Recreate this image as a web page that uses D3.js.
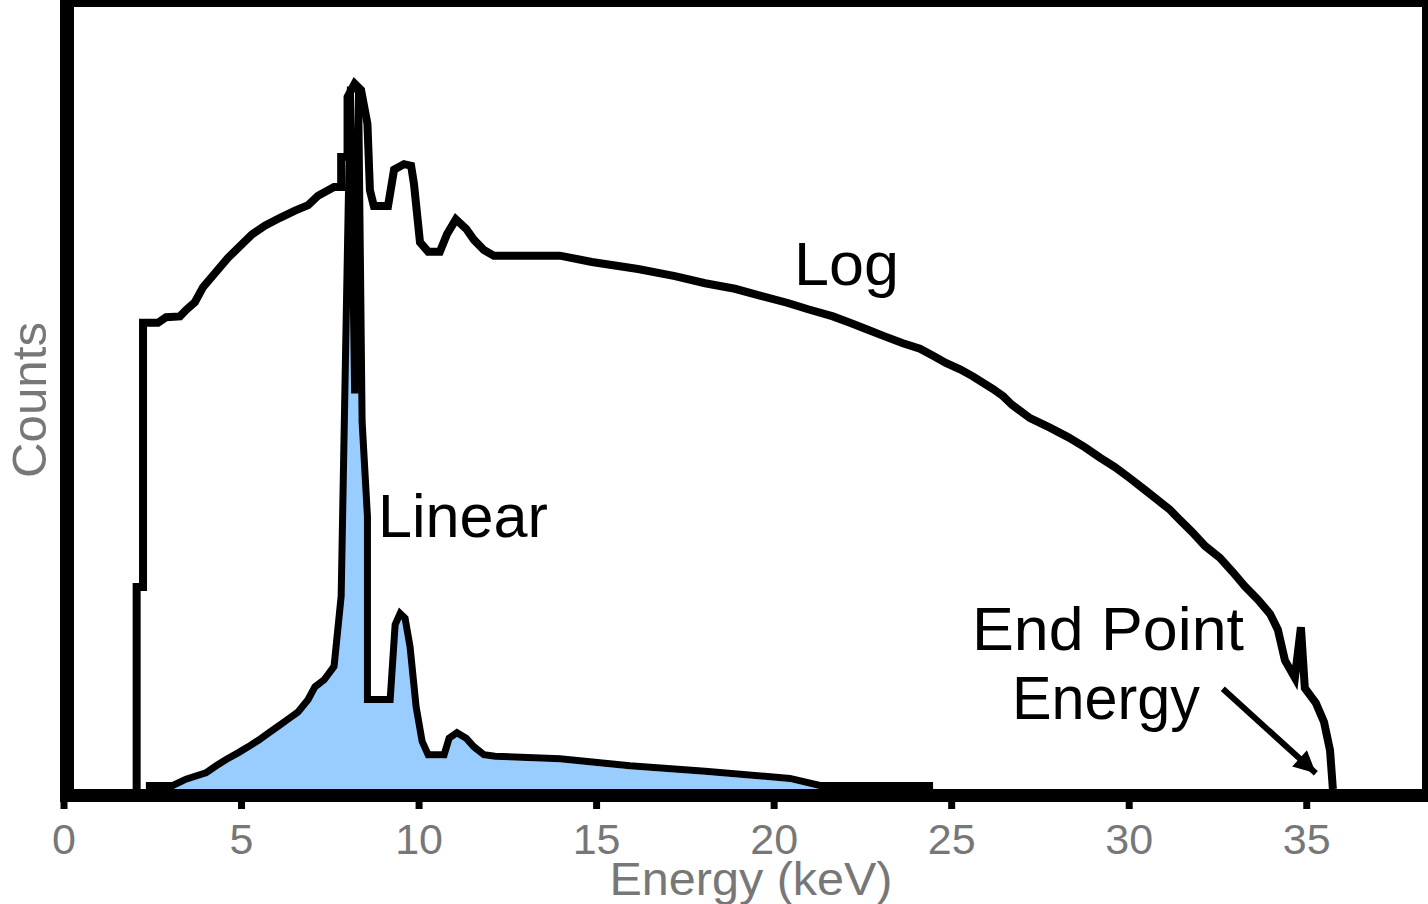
<!DOCTYPE html>
<html>
<head>
<meta charset="utf-8">
<script src="https://d3js.org/d3.v7.min.js"></script>
<style>
  html, body { margin: 0; padding: 0; background: #fff; }
  svg { display: block; }
</style>
</head>
<body>
<div id="chart"></div>
<script>
// Log-scale spectrum (relative height, 0-100)
const logEnergy = [2.06, 2.06, 2.24, 2.24, 2.66, 2.89, 3.28, 3.45, 3.70, 3.93, 4.27, 4.63, 4.97, 5.31, 5.67, 6.10, 6.52, 6.89, 7.17, 7.62, 7.82, 7.82, 8.00, 8.00, 8.20, 8.38, 8.56, 8.63, 8.74, 9.14, 9.31, 9.59, 9.79, 9.87, 10.04, 10.27, 10.60, 10.80, 11.05, 11.34, 11.56, 11.84, 12.12, 13.98, 14.88, 16.18, 17.22, 18.07, 18.91, 19.64, 20.40, 20.97, 21.67, 22.15, 22.60, 23.11, 23.64, 24.12, 24.49, 24.85, 25.25, 25.61, 25.89, 26.18, 26.46, 26.71, 27.22, 27.78, 28.29, 28.77, 29.19, 29.61, 30.03, 30.46, 30.82, 31.16, 31.44, 31.78, 32.15, 32.57, 32.93, 33.27, 33.64, 33.98, 34.20, 34.40, 34.68, 34.85, 34.96, 35.27, 35.50, 35.67, 35.75];
const logCounts = [0, 25.6, 25.6, 59.1, 59.1, 59.8, 59.9, 60.7, 61.7, 63.6, 65.4, 67.3, 68.8, 70.3, 71.4, 72.4, 73.3, 74.0, 75.2, 76.3, 76.3, 80.1, 80.1, 87.7, 89.4, 88.6, 84.3, 75.9, 73.9, 73.9, 78.5, 79.2, 79.0, 76.7, 69.3, 68.1, 68.1, 70.3, 72.2, 71.0, 69.6, 68.3, 67.6, 67.6, 66.8, 65.9, 65.0, 64.1, 63.4, 62.5, 61.6, 60.8, 59.9, 59.1, 58.3, 57.4, 56.5, 55.8, 54.9, 54.0, 53.2, 52.3, 51.5, 50.7, 49.8, 48.7, 47.0, 45.8, 44.6, 43.3, 42.0, 40.8, 39.4, 37.9, 36.6, 35.4, 34.1, 32.6, 30.8, 29.3, 27.5, 25.7, 24.0, 22.2, 20.2, 16.3, 14.1, 20.5, 12.8, 10.9, 8.5, 4.9, 0];

// Linear-scale spectrum (relative height, 0-100)
const linearEnergy = [2.32, 3.08, 3.45, 4.01, 4.30, 4.58, 4.94, 5.20, 5.51, 5.79, 6.04, 6.32, 6.60, 6.89, 7.08, 7.34, 7.62, 7.82, 8.08, 8.20, 8.31, 8.41, 8.56, 8.56, 9.20, 9.34, 9.48, 9.62, 9.76, 9.93, 10.10, 10.27, 10.72, 10.86, 11.08, 11.34, 11.56, 11.84, 12.15, 13.98, 15.95, 18.07, 20.46, 21.30, 24.49];
const linearCounts = [0, 0, 0.8, 1.6, 2.5, 3.3, 4.2, 4.9, 5.8, 6.7, 7.5, 8.4, 9.3, 10.9, 12.5, 13.4, 15.1, 24.0, 88.6, 49.7, 88.6, 46.1, 34.1, 10.9, 10.9, 20.4, 21.8, 21.2, 17.6, 10.0, 5.6, 3.9, 3.9, 6.0, 6.7, 6.0, 4.9, 3.9, 3.7, 3.4, 2.5, 1.8, 0.9, 0, 0];

const xTicks = [0, 5, 10, 15, 20, 25, 30, 35];

const logData = logEnergy.map((e, i) => [e, logCounts[i]]);
const linearData = linearEnergy.map((e, i) => [e, linearCounts[i]]);

const svgWidth = 1428;
const svgHeight = 904;
const fontFamily = "'Liberation Sans', Arial, sans-serif";

const svg = d3.select("#chart")
  .append("svg")
  .attr("width", svgWidth)
  .attr("height", svgHeight)
  .style("font-family", fontFamily);

const x = d3.scaleLinear().domain([0, 38.26]).range([63.5, 1422]);
const y = d3.scaleLinear().domain([0, 100]).range([789, 0]);

// Linear spectrum: blue fill with black outline sitting on top of it
svg.append("path")
  .datum(linearData)
  .attr("fill", "#99ccff")
  .attr("d", d3.area().x(d => x(d[0])).y0(y(0)).y1(d => y(d[1])));

svg.append("path")
  .datum(linearData)
  .attr("fill", "none")
  .attr("stroke", "#000")
  .attr("stroke-width", 7)
  .attr("transform", "translate(0,-3.5)")
  .attr("d", d3.line().x(d => x(d[0])).y(d => y(d[1])));

// Log spectrum
svg.append("path")
  .datum(logData)
  .attr("fill", "none")
  .attr("stroke", "#000")
  .attr("stroke-width", 8)
  .attr("d", d3.line().x(d => x(d[0])).y(d => y(d[1])));

// Frame
svg.append("line").attr("x1", 60).attr("x2", 1428).attr("y1", 3.5).attr("y2", 3.5)
  .attr("stroke", "#000").attr("stroke-width", 7);
svg.append("line").attr("x1", 67).attr("x2", 67).attr("y1", 0).attr("y2", 802)
  .attr("stroke", "#000").attr("stroke-width", 14);
svg.append("line").attr("x1", 1425).attr("x2", 1425).attr("y1", 0).attr("y2", 802)
  .attr("stroke", "#000").attr("stroke-width", 6);
svg.append("line").attr("x1", 60).attr("x2", 1428).attr("y1", 795.5).attr("y2", 795.5)
  .attr("stroke", "#000").attr("stroke-width", 13);

// X axis ticks and labels
const xAxisG = svg.append("g")
  .attr("transform", "translate(0,802)")
  .call(d3.axisBottom(x).tickValues(xTicks).tickSize(7).tickFormat(d => d));

xAxisG.select(".domain").remove();
xAxisG.selectAll(".tick line")
  .attr("stroke", "#000")
  .attr("stroke-width", 7);
xAxisG.selectAll(".tick text")
  .attr("y", 52)
  .attr("dy", null)
  .attr("fill", "#777")
  .style("font-size", "43px")
  .style("font-family", fontFamily);

// Axis titles
svg.append("text")
  .attr("x", 751)
  .attr("y", 895)
  .attr("text-anchor", "middle")
  .attr("fill", "#777")
  .attr("textLength", 283)
  .attr("lengthAdjust", "spacingAndGlyphs")
  .style("font-size", "46px")
  .text("Energy (keV)");

svg.append("text")
  .attr("transform", "translate(46,400) rotate(-90)")
  .attr("text-anchor", "middle")
  .attr("fill", "#777")
  .attr("textLength", 156)
  .attr("lengthAdjust", "spacingAndGlyphs")
  .style("font-size", "48px")
  .text("Counts");

// Curve labels
svg.append("text")
  .attr("x", 794).attr("y", 285)
  .attr("textLength", 105)
  .attr("lengthAdjust", "spacingAndGlyphs")
  .style("font-size", "62px")
  .text("Log");

svg.append("text")
  .attr("x", 378).attr("y", 537)
  .attr("textLength", 170)
  .attr("lengthAdjust", "spacingAndGlyphs")
  .style("font-size", "62px")
  .text("Linear");

svg.append("text")
  .attr("x", 972).attr("y", 650)
  .attr("textLength", 272)
  .attr("lengthAdjust", "spacingAndGlyphs")
  .style("font-size", "62px")
  .text("End Point");

svg.append("text")
  .attr("x", 1012).attr("y", 719)
  .attr("textLength", 188)
  .attr("lengthAdjust", "spacingAndGlyphs")
  .style("font-size", "62px")
  .text("Energy");

// Arrow pointing at the end point energy
svg.append("defs").append("marker")
  .attr("id", "arrowhead")
  .attr("markerUnits", "userSpaceOnUse")
  .attr("viewBox", "0 0 10 10")
  .attr("refX", 10).attr("refY", 5)
  .attr("markerWidth", 26).attr("markerHeight", 22)
  .attr("orient", "auto")
  .append("path")
  .attr("d", "M0,0 L10,5 L0,10 Z")
  .attr("fill", "#000");

svg.append("line")
  .attr("x1", x(32.65)).attr("y1", y(12.7))
  .attr("x2", x(35.27)).attr("y2", y(2.0))
  .attr("stroke", "#000")
  .attr("stroke-width", 6)
  .attr("marker-end", "url(#arrowhead)");
</script>
</body>
</html>
